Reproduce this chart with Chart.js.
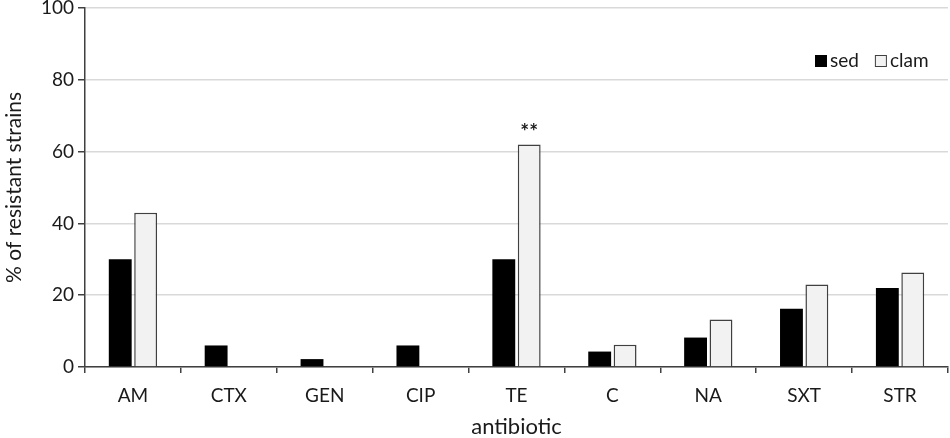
<!DOCTYPE html>
<html>
<head>
<meta charset="utf-8">
<script src="https://cdn.jsdelivr.net/npm/chart.js@4.4.1/dist/chart.umd.min.js"></script>
<style>
  html, body { margin: 0; padding: 0; background: #fff; }
  #wrap { width: 950px; height: 438px; }
</style>
</head>
<body>
<div id="wrap"><canvas id="resistance"></canvas></div>
<script>
var antibiotics = ["AM", "CTX", "GEN", "CIP", "TE", "C", "NA", "SXT", "STR"];
var sedValues = [30, 6, 2.2, 6, 30, 4.3, 8.2, 16.2, 22];
var clamValues = [43, 0, 0, 0, 62, 6.2, 13.2, 23, 26.3];
var yTicks = [0, 20, 40, 60, 80, 100];
var marks = [{ dataset: 1, index: 4, text: "**" }];

var font = "Lato, 'Open Sans', sans-serif";
var ink = "#1a1a1a";

// legend drawn inside the plot, top right
var innerLegend = {
    id: "innerLegend",
    afterDraw: function (chart) {
        var c = chart.ctx;
        var x = 815, y = 61;
        c.save();
        c.font = "19px " + font;
        c.textBaseline = "middle";
        chart.data.datasets.forEach(function (ds) {
            c.fillStyle = ds.backgroundColor;
            c.fillRect(x, y - 6, 12, 12);
            c.strokeStyle = ds.borderColor;
            c.lineWidth = 1;
            c.strokeRect(x + 0.5, y - 5.5, 11, 11);
            c.fillStyle = ink;
            c.fillText(ds.label, x + 15, y);
            x += 15 + c.measureText(ds.label).width + 16;
        });
        c.restore();
    }
};

// significance stars above bars
var starMarks = {
    id: "starMarks",
    afterDatasetsDraw: function (chart) {
        var c = chart.ctx;
        c.save();
        c.font = "bold 21px " + font;
        c.fillStyle = ink;
        c.textAlign = "center";
        c.textBaseline = "bottom";
        marks.forEach(function (m) {
            var bar = chart.getDatasetMeta(m.dataset).data[m.index];
            c.fillText(m.text, bar.x, bar.y - 2);
        });
        c.restore();
    }
};

var ctx = document.getElementById("resistance");
var myChart = new Chart(ctx, {
    type: "bar",
    data: {
        labels: antibiotics,
        datasets: [
            {
                label: "sed",
                data: sedValues,
                backgroundColor: "#000000",
                borderColor: "#000000",
                borderWidth: 0,
            },
            {
                label: "clam",
                data: clamValues,
                backgroundColor: "#f2f2f2",
                borderColor: "#404040",
                borderWidth: 1.5,
            },
        ],
    },
    options: {
        responsive: true,
        maintainAspectRatio: false,
        animation: false,
        layout: { padding: { top: 8, right: 2, left: 0, bottom: 0 } },
        categoryPercentage: 0.53,
        barPercentage: 0.9,
        plugins: {
            legend: { display: false },
            tooltip: { enabled: false },
        },
        scales: {
            x: {
                grid: {
                    display: true,
                    drawOnChartArea: false,
                    drawTicks: true,
                    tickLength: 6,
                    offset: true,
                    color: "#404040",
                    lineWidth: 1.5,
                },
                border: { color: "#404040", width: 1.5 },
                ticks: { color: ink, font: { family: font, size: 19 }, padding: 11 },
                title: {
                    display: true,
                    text: "antibiotic",
                    color: ink,
                    font: { family: font, size: 22 },
                    padding: { top: 4, bottom: -2 },
                },
                afterFit: function (scale) {
                    scale.height = 71;
                    scale.paddingLeft = 0;
                    scale.paddingRight = 0;
                },
            },
            y: {
                min: 0,
                max: 100,
                afterBuildTicks: function (scale) {
                    scale.ticks = yTicks.map(function (v) { return { value: v }; });
                },
                grid: {
                    color: "#d9d9d9",
                    lineWidth: 1.5,
                    tickLength: 7,
                    tickColor: "#404040",
                },
                border: { color: "#404040", width: 1.5 },
                ticks: { color: ink, font: { family: font, size: 19 }, padding: 4 },
                title: {
                    display: true,
                    text: "% of resistant strains",
                    color: ink,
                    font: { family: font, size: 21 },
                    padding: { top: 2, bottom: 2 },
                },
                afterFit: function (scale) {
                    scale.width = 85;
                    scale.paddingTop = 0;
                    scale.paddingBottom = 0;
                },
            },
        },
    },
    plugins: [innerLegend, starMarks],
});
</script>
</body>
</html>
